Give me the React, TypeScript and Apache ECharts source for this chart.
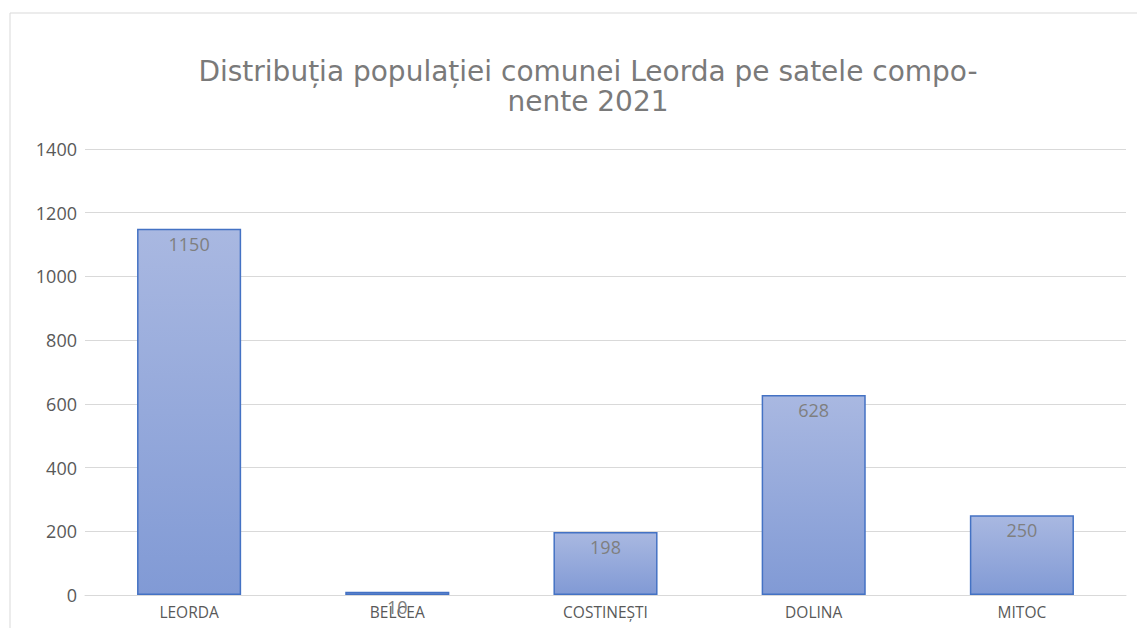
import React, { useEffect, useRef } from "react";
import * as echarts from "echarts";

const categories = ["LEORDA", "BELCEA", "COSTINEȘTI", "DOLINA", "MITOC"];
const values = [1150, 10, 198, 628, 250];
const titleText = "Distribuția populației comunei Leorda pe satele compo-\nnente 2021";

export default function App() {
  const ref = useRef<HTMLDivElement>(null);
  useEffect(() => {
    document.body.style.margin = "0";
    const chart = echarts.init(ref.current!, null, { renderer: "svg" });
    chart.setOption({
      animation: false,
      backgroundColor: "#ffffff",
      title: {
        text: titleText,
        left: 583,
        top: 51,
        textAlign: "center",
        textStyle: {
          fontFamily: "DejaVu Sans",
          fontSize: 28,
          fontWeight: "normal",
          color: "#7a7a7a",
          lineHeight: 30,
        },
      },
      graphic: [
        {
          type: "rect",
          shape: { x: 10, y: 13, width: 1300, height: 800 },
          style: { fill: "none", stroke: "#d9d9d9", lineWidth: 1 },
          silent: true,
        },
      ],
      grid: { left: 85, right: 11, top: 149, bottom: 33 },
      xAxis: {
        type: "category",
        data: categories,
        axisTick: { show: false },
        axisLine: { lineStyle: { color: "#d9d9d9", width: 1 } },
        axisLabel: {
          color: "#595959",
          fontFamily: "Open Sans",
          fontSize: 15.5,
          margin: 9,
        },
      },
      yAxis: {
        type: "value",
        min: 0,
        max: 1400,
        interval: 200,
        axisLine: { show: false },
        axisTick: { show: false },
        splitLine: { lineStyle: { color: "#d9d9d9", width: 1 } },
        axisLabel: {
          color: "#595959",
          fontFamily: "Open Sans",
          fontSize: 18,
          margin: 8,
          formatter: (v: number) => String(v),
        },
      },
      series: [
        {
          type: "bar",
          data: values,
          barWidth: "50%",
          itemStyle: {
            color: new echarts.graphic.LinearGradient(0, 0, 0, 1, [
              { offset: 0, color: "#a9b8e1" },
              { offset: 1, color: "#819ad5" },
            ]),
            borderColor: "#4472c4",
            borderWidth: 1.5,
          },
          label: {
            show: true,
            position: "insideTop",
            distance: 6,
            color: "#7f7f7f",
            fontFamily: "Open Sans",
            fontSize: 18,
          },
        },
      ],
    });
    return () => chart.dispose();
  }, []);
  return <div ref={ref} style={{ width: 1137, height: 628 }} />;
}
